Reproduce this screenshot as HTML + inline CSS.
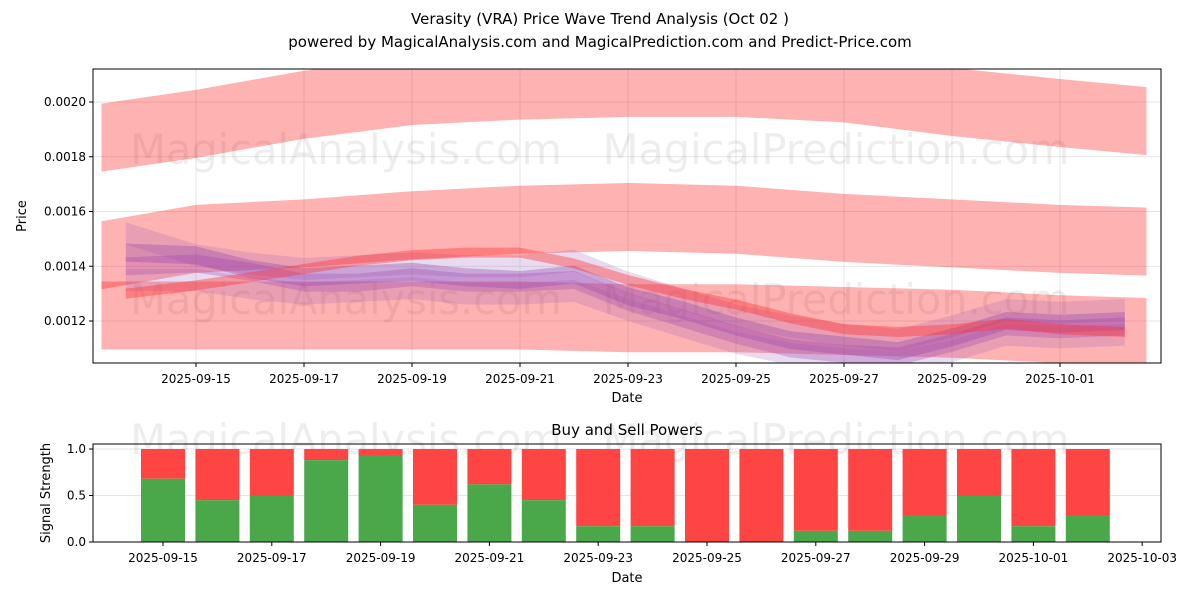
<!DOCTYPE html>
<html><head><meta charset="utf-8"><style>
body{margin:0;background:#fff;font-family:"Liberation Sans","DejaVu Sans",sans-serif}
svg text{font-family:"DejaVu Sans","Liberation Sans",sans-serif}
</style></head><body>
<svg id="c" width="1200" height="600" xmlns="http://www.w3.org/2000/svg">
<text x="600" y="24" font-size="15" text-anchor="middle">Verasity (VRA) Price Wave Trend Analysis (Oct 02 )</text>
<text x="600" y="47" font-size="15" text-anchor="middle">powered by MagicalAnalysis.com and MagicalPrediction.com and Predict-Price.com</text>
<g id="main"></g>
<g id="bot"></g>
</svg>
<script>
// ---- data ----
const tickDays=[0,2,4,6,8,10,12,14,16];
const tickLabels=["2025-09-15","2025-09-17","2025-09-19","2025-09-21","2025-09-23","2025-09-25","2025-09-27","2025-09-29","2025-10-01"];
const priceTicks=[0.0012,0.0014,0.0016,0.0018,0.0020];
const bandDays=[-1.75,0,2,4,6,8,10,12,14,16,17.6];
const bandTop=[0.00187,0.00192,0.00199,0.00204,0.00206,0.00207,0.00207,0.00205,0.00200,0.00196,0.00193];
const bandMid=[0.00144,0.00150,0.00152,0.00155,0.00157,0.00158,0.00157,0.00154,0.00152,0.00150,0.00149];
const bandLow=[0.00122,0.00122,0.00122,0.00122,0.00122,0.00121,0.00121,0.00120,0.00119,0.00117,0.00116];
const lineDays=[-1.3,0,1,2,3,4,5,6,7,8,9,10,11,12,13,14,15,16,17.2];
const purple1=[0.00145,0.00144,0.00139,0.00136,0.00137,0.00138,0.00136,0.00135,0.00137,0.00129,0.00124,0.00118,0.00113,0.00111,0.00109,0.00114,0.00120,0.00119,0.00120];
const purple2=[0.00140,0.00141,0.00138,0.00134,0.00134,0.00136,0.00134,0.00134,0.00135,0.00127,0.00121,0.00115,0.00110,0.00108,0.00107,0.00112,0.00118,0.00117,0.00118];
const purple3=[0.00152,0.00144,0.00141,0.00139,0.00140,0.00141,0.00140,0.00140,0.00142,0.00134,0.00128,0.00122,0.00118,0.00115,0.00113,0.00118,0.00124,0.00123,0.00124];
const purple4=[0.00135,0.00135,0.00132,0.00130,0.00131,0.00132,0.00130,0.00130,0.00131,0.00124,0.00118,0.00112,0.00108,0.00106,0.00105,0.00109,0.00115,0.00114,0.00115];
const redLine=[0.00130,0.00133,0.00136,0.00139,0.00142,0.00144,0.00145,0.00145,0.00141,0.00135,0.00130,0.00126,0.00121,0.00117,0.00116,0.00117,0.00119,0.00117,0.00116];
const barDays=[0,1,2,3,4,5,6,7,8,9,10,11,12,13,14,15,16,17];
const buyPower=[0.68,0.45,0.5,0.88,0.93,0.4,0.62,0.45,0.17,0.17,0,0,0.12,0.12,0.28,0.5,0.17,0.28];
const botTickDays=[0,2,4,6,8,10,12,14,16,18];
const botTickLabels=["2025-09-15","2025-09-17","2025-09-19","2025-09-21","2025-09-23","2025-09-25","2025-09-27","2025-09-29","2025-10-01","2025-10-03"];
const powerTicks=[0,0.5,1];
// ---- scales ----
const NS="http://www.w3.org/2000/svg";
const mL=93,mR=1161,mT=69,mB=363;
const X=d=>196+d*54;
const Y=p=>102+(0.0020-p)/0.0002*54.75;
const bL=93,bR=1161,bT=444,bB=542;
const BX=d=>163+d*54.4;
const BY=v=>542-v*93;
function mk(tag,attrs,parent){const e=document.createElementNS(NS,tag);for(const k in attrs)e.setAttribute(k,attrs[k]);parent.appendChild(e);return e;}
const main=document.getElementById('main'),bot=document.getElementById('bot');
const defs=mk('defs',{},main);
const cp=mk('clipPath',{id:'mc'},defs);mk('rect',{x:mL,y:mT,width:mR-mL,height:mB-mT},cp);
const cp2=mk('clipPath',{id:'bc'},defs);mk('rect',{x:bL,y:bT,width:bR-bL,height:bB-bT},cp2);
// grid
tickDays.forEach(d=>{const l=mk('line',{x1:X(d),x2:X(d),y1:mT,y2:mB,stroke:'#ddd','stroke-width':0.8},main);
});
priceTicks.forEach(p=>{const l=mk('line',{x1:mL,x2:mR,y1:Y(p),y2:Y(p),stroke:'#ddd','stroke-width':0.8},main);
});
// watermark
[[346,150,'MagicalAnalysis.com'],[836,150,'MagicalPrediction.com'],[346,300,'MagicalAnalysis.com'],[836,300,'MagicalPrediction.com']].forEach(w=>{
const t=mk('text',{x:w[0],y:w[1]+14,'font-size':41.5,'text-anchor':'middle',fill:'#000','fill-opacity':0.07},main);t.textContent=w[2];
});
const g=mk('g',{'clip-path':'url(#mc)'},main);
function band(days,vals,half,color,op,name){
 let up=days.map((d,i)=>X(d)+','+(Y(vals[i])-half));
 let dn=days.map((d,i)=>X(d)+','+(Y(vals[i])+half)).reverse();
 const p=mk('polygon',{points:up.concat(dn).join(' '),fill:color,'fill-opacity':op},g);
 
}
band(bandDays,bandTop,34,'#ff0000',0.3,'upper-wave-band');
band(bandDays,bandMid,34,'#ff0000',0.3,'middle-wave-band');
band(bandDays,bandLow,34,'#ff0000',0.3,'lower-wave-band');
band(lineDays,purple3,11,'#9b59b6',0.22,'purple-wave-3');
band(lineDays,purple1,9,'#8e44ad',0.35,'purple-wave-1');
band(lineDays,purple2,9,'#a040b0',0.3,'purple-wave-2');
band(lineDays,purple4,11,'#9b59b6',0.22,'purple-wave-4');
band(lineDays,redLine,5,'#ff3030',0.4,'red-wave-line');
// axes box
const fr=mk('rect',{x:mL,y:mT,width:mR-mL,height:mB-mT,fill:'none',stroke:'#000','stroke-width':1},main);

tickDays.forEach((d,i)=>{mk('line',{x1:X(d),x2:X(d),y1:mB,y2:mB+4,stroke:'#000'},main);
const t=mk('text',{x:X(d),y:mB+20,'font-size':12,'text-anchor':'middle'},main);t.textContent=tickLabels[i];
});
priceTicks.forEach(p=>{mk('line',{x1:mL-4,x2:mL,y1:Y(p),y2:Y(p),stroke:'#000'},main);
const t=mk('text',{x:mL-7,y:Y(p)+4,'font-size':12,'text-anchor':'end'},main);t.textContent=p.toFixed(4);
});
let t=mk('text',{x:627,y:402,'font-size':13,'text-anchor':'middle'},main);t.textContent='Date';

t=mk('text',{x:26,y:216,'font-size':13,'text-anchor':'middle',transform:'rotate(-90 26 216)'},main);t.textContent='Price';

// bottom
t=mk('text',{x:627,y:435,'font-size':15,'text-anchor':'middle'},bot);t.textContent='Buy and Sell Powers';

powerTicks.forEach(v=>{const l=mk('line',{x1:bL,x2:bR,y1:BY(v),y2:BY(v),stroke:'#ddd','stroke-width':0.8},bot);
});
[[346,440,'MagicalAnalysis.com'],[836,440,'MagicalPrediction.com']].forEach(w=>{
const tt=mk('text',{x:w[0],y:w[1]+14,'font-size':41.5,'text-anchor':'middle',fill:'#000','fill-opacity':0.07},bot);tt.textContent=w[2];
});
const bg=mk('g',{'clip-path':'url(#bc)'},bot);
barDays.forEach((d,i)=>{
 const r1=mk('rect',{x:BX(d)-22,y:BY(1),width:44,height:BY(buyPower[i])-BY(1),fill:'#ff4444'},bg);
 
 const r2=mk('rect',{x:BX(d)-22,y:BY(buyPower[i]),width:44,height:BY(0)-BY(buyPower[i]),fill:'#4aa84a'},bg);
 
});
const fr2=mk('rect',{x:bL,y:bT,width:bR-bL,height:bB-bT,fill:'none',stroke:'#000','stroke-width':1},bot);

botTickDays.forEach((d,i)=>{mk('line',{x1:BX(d),x2:BX(d),y1:bB,y2:bB+4,stroke:'#000'},bot);
const tt=mk('text',{x:BX(d),y:bB+20,'font-size':12,'text-anchor':'middle'},bot);tt.textContent=botTickLabels[i];
});
powerTicks.forEach(v=>{mk('line',{x1:bL-4,x2:bL,y1:BY(v),y2:BY(v),stroke:'#000'},bot);
const tt=mk('text',{x:bL-7,y:BY(v)+4,'font-size':12,'text-anchor':'end'},bot);tt.textContent=v.toFixed(1);
});
t=mk('text',{x:627,y:582,'font-size':13,'text-anchor':'middle'},bot);t.textContent='Date';

t=mk('text',{x:50,y:493,'font-size':13,'text-anchor':'middle',transform:'rotate(-90 50 493)'},bot);t.textContent='Signal Strength';

</script>
</body></html>
